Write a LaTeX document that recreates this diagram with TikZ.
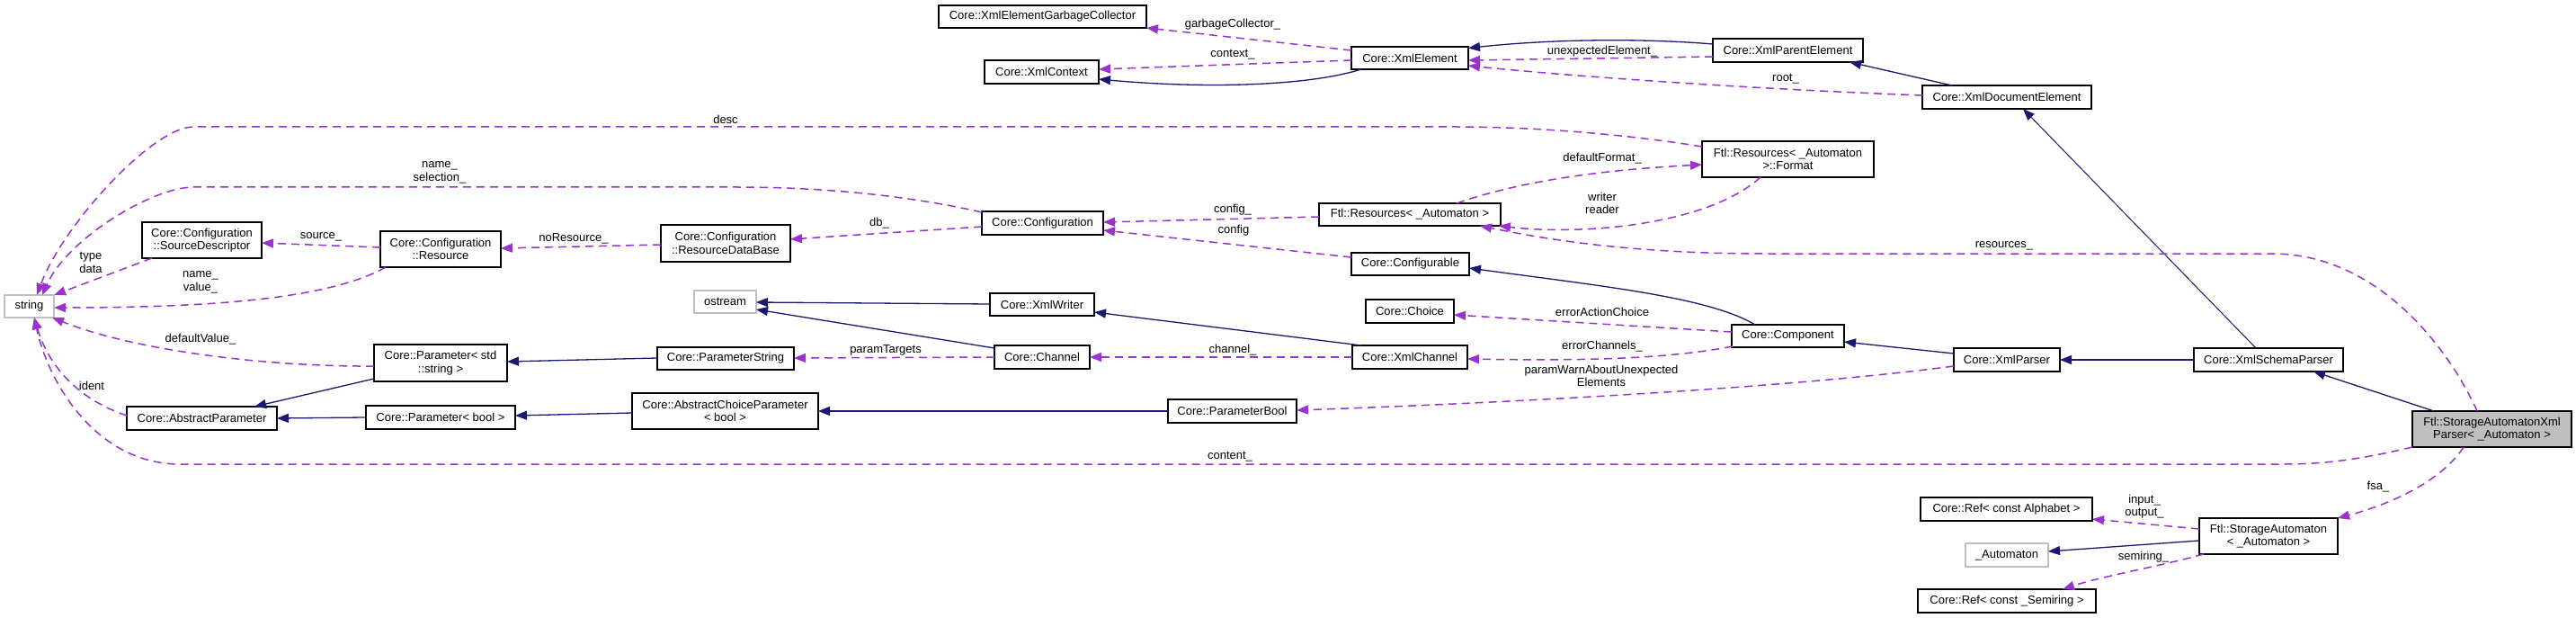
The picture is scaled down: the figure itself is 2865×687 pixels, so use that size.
\documentclass[tikz,border=0pt]{standalone}
\usepackage{fontspec}
\setmainfont{Liberation Sans}
\usetikzlibrary{arrows.meta,calc}
\definecolor{inh}{HTML}{191970}
\definecolor{usec}{HTML}{9A32CD}
\definecolor{grayb}{HTML}{BFBFBF}
\begin{document}
\begin{tikzpicture}[x=1pt,y=-1pt,
 box/.style={draw=black,line width=1.3pt,fill=white,inner sep=0pt,align=center,font=\fontsize{13}{14.5}\selectfont},
 ext/.style={box,draw=grayb},
 mainbox/.style={box,fill=grayb},
 inhe/.style={draw=inh,line width=1.3pt,-{Triangle[length=13pt,width=10pt]}},
 usee/.style={draw=usec,line width=1.5pt,dash pattern=on 9pt off 6pt,-{Triangle[length=13pt,width=10pt]}},
 lbl/.style={inner sep=0pt,align=center,font=\fontsize{13}{14.5}\selectfont}]
\useasboundingbox[fill=white] (0,0) rectangle (2865,687);

% nodes
\node[box,minimum width=231,minimum height=25] (gc) at (1159.5,18.5) {Core::XmlElementGarbageCollector};
\node[box,minimum width=127,minimum height=26] (ctx) at (1158.5,80) {Core::XmlContext};
\node[box,minimum width=130,minimum height=25] (xel) at (1568,64.5) {Core::XmlElement};
\node[box,minimum width=167,minimum height=26] (xpe) at (1988.5,56) {Core::XmlParentElement};
\node[box,minimum width=188,minimum height=26] (xde) at (2232,108) {Core::XmlDocumentElement};
\node[box,minimum width=191,minimum height=40] (fmt) at (1988.5,177) {Ftl::Resources< \_Automaton\\>::Format};
\node[box,minimum width=202,minimum height=25] (res) at (1568,238.5) {Ftl::Resources< \_Automaton >};
\node[box,minimum width=135,minimum height=26] (cfg) at (1159.5,248) {Core::Configuration};
\node[box,minimum width=144,minimum height=41] (rdb) at (807,270.5) {Core::Configuration\\::ResourceDataBase};
\node[box,minimum width=134,minimum height=40] (rsc) at (490,277) {Core::Configuration\\::Resource};
\node[box,minimum width=133,minimum height=40] (sd) at (224.5,267) {Core::Configuration\\::SourceDescriptor};
\node[ext,minimum width=55,minimum height=25] (str) at (32.5,340.5) {string};
\node[box,minimum width=131,minimum height=25] (cfb) at (1568.5,293.5) {Core::Configurable};
\node[ext,minimum width=69,minimum height=25] (ost) at (806.5,335.5) {ostream};
\node[box,minimum width=116,minimum height=25] (xw) at (1159,338.5) {Core::XmlWriter};
\node[box,minimum width=98,minimum height=26] (cho) at (1568,346) {Core::Choice};
\node[box,minimum width=125,minimum height=25] (cmp) at (1988.5,373.5) {Core::Component};
\node[box,minimum width=106,minimum height=26] (chn) at (1159,397) {Core::Channel};
\node[box,minimum width=128,minimum height=26] (xch) at (1568,397) {Core::XmlChannel};
\node[box,minimum width=148,minimum height=41] (pstr) at (490,403.5) {Core::Parameter< std\\::string >};
\node[box,minimum width=152,minimum height=25] (ps) at (807,398.5) {Core::ParameterString};
\node[box,minimum width=167,minimum height=26] (ap) at (224.5,465) {Core::AbstractParameter};
\node[box,minimum width=166,minimum height=26] (pb) at (490,464) {Core::Parameter< bool >};
\node[box,minimum width=207,minimum height=40] (acp) at (806.5,457) {Core::AbstractChoiceParameter\\< bool >};
\node[box,minimum width=143,minimum height=26] (pbool) at (1370.5,457) {Core::ParameterBool};
\node[box,minimum width=118,minimum height=26] (xp) at (2232,400) {Core::XmlParser};
\node[box,minimum width=166,minimum height=26] (xsp) at (2523,400) {Core::XmlSchemaParser};
\node[mainbox,minimum width=177,minimum height=40] (sax) at (2771.5,477) {Ftl::StorageAutomatonXml\\Parser< \_Automaton >};
\node[box,minimum width=191,minimum height=26] (rfa) at (2231.5,566) {Core::Ref< const Alphabet >};
\node[ext,minimum width=92,minimum height=26] (aut) at (2232,617) {\_Automaton};
\node[box,minimum width=154,minimum height=40] (sa) at (2523,596) {Ftl::StorageAutomaton\\< \_Automaton >};
\node[box,minimum width=198,minimum height=26] (rfs) at (2232,668) {Core::Ref< const \_Semiring >};

% inheritance
\draw[inhe] ($(xpe)+(-83.5,-7)$) .. controls (1820,42) and (1720,44) .. ($(xel)+(65,-11)$);
\draw[inhe] ($(xde)+(-61,-13)$) -- ($(xpe)+(68.5,13)$);
\draw[inhe] ($(xel)+(-54,12.5)$) .. controls (1450,97) and (1330,98) .. ($(ctx)+(63.5,8)$);
\draw[inhe,line width=1pt] ($(xsp)+(-14,-13)$) -- ($(xde)+(18,13)$);
\draw[inhe] ($(cmp)+(-36.5,-12.5)$) .. controls (1900,330) and (1780,318) .. ($(cfb)+(65.5,4.5)$);
\draw[inhe] ($(xw)+(-58,-0.5)$) -- ($(ost)+(34.5,0.5)$);
\draw[inhe] ($(chn)+(-53,-10)$) -- ($(ost)+(34.5,8.5)$);
\draw[inhe] ($(xch)+(-54,-13)$) -- ($(xw)+(58,8.5)$);
\draw[inhe] ($(xp)+(-59,-7)$) -- ($(cmp)+(62.5,6.5)$);
\draw[inhe] ($(xsp)+(-83,0)$) -- ($(xp)+(59,0)$);
\draw[inhe] ($(sax)+(-64.5,-20)$) -- ($(xsp)+(50,13)$);
\draw[inhe] ($(ps)+(-76,-0.5)$) -- ($(pstr)+(74,-1.5)$);
\draw[inhe] ($(pstr)+(-74,17.5)$) -- ($(ap)+(58.5,-13)$);
\draw[inhe] ($(pb)+(-83,0)$) -- ($(ap)+(83.5,0)$);
\draw[inhe] ($(acp)+(-103.5,2)$) -- ($(pb)+(83,-2)$);
\draw[inhe] ($(pbool)+(-71.5,0)$) -- ($(acp)+(103.5,0)$);
\draw[inhe] ($(sa)+(-77,5)$) -- ($(aut)+(46,-4)$);

% usage
\draw[usee] ($(xel)+(-65,-8.5)$) -- ($(gc)+(115.5,12.5)$);
\draw[usee] ($(xel)+(-65,2.5)$) -- ($(ctx)+(63.5,-3)$);
\draw[usee] ($(xpe)+(-83.5,7)$) -- ($(xel)+(65,2.5)$);
\draw[usee] ($(xde)+(-94,-2)$) .. controls (1950,99) and (1750,85) .. ($(xel)+(65,8.5)$);
\draw[usee] ($(fmt)+(-95.5,-14)$) .. controls (1800,148) and (1700,141) .. (1620,141) -- (215,141) .. controls (170,141) and (70,250) .. ($(str)+(8.5,-12.5)$);
\draw[usee] ($(cfg)+(-67.5,-12)$) .. controls (1000,215) and (900,208) .. (820,208) -- (215,208) .. controls (170,208) and (75,265) .. ($(str)+(14.5,-12.5)$);
\draw[usee] ($(res)+(52,-12.5)$) .. controls (1700,198) and (1800,188) .. ($(fmt)+(-95.5,6)$);
\draw[usee] ($(fmt)+(-30.5,20)$) .. controls (1900,250) and (1760,262) .. ($(res)+(99,12.5)$);
\draw[usee] ($(sax)+(-16.5,-20)$) .. controls (2720,380) and (2640,282) .. (2527,282) -- (1960,282) .. controls (1800,282) and (1700,262) .. ($(res)+(78,12.5)$);
\draw[usee] ($(res)+(-101,2.5)$) -- ($(cfg)+(67.5,-1)$);
\draw[usee] ($(cfb)+(-65.5,-7.5)$) -- ($(cfg)+(67.5,8)$);
\draw[usee] ($(cfg)+(-67.5,4)$) -- ($(rdb)+(72,-4.5)$);
\draw[usee] ($(rdb)+(-72,1.5)$) -- ($(rsc)+(67,-1)$);
\draw[usee] ($(rsc)+(-67,-2)$) -- ($(sd)+(66.5,3)$);
\draw[usee] ($(sd)+(-55.5,20)$) -- ($(str)+(27.5,-12.5)$);
\draw[usee] ($(rsc)+(-61,20)$) .. controls (370,330) and (250,342) .. ($(str)+(27.5,1.5)$);
\draw[usee] ($(pstr)+(-74,3.5)$) .. controls (300,408) and (150,390) .. ($(str)+(25.5,12.5)$);
\draw[usee] ($(ap)+(-83.5,-3)$) .. controls (90,445) and (55,410) .. ($(str)+(5.5,12.5)$);
\draw[usee] ($(sax)+(-88.5,20)$) .. controls (2620,512) and (2580,516) .. (2540,516) -- (200,516) .. controls (110,516) and (55,430) .. ($(str)+(5.5,12.5)$);
\draw[usee] ($(chn)+(-53,0)$) -- ($(ps)+(76,-0.5)$);
\draw[usee] ($(xch)+(-64,0)$) -- ($(chn)+(53,0)$);
\draw[usee] ($(cmp)+(-62.5,-4.5)$) -- ($(cho)+(49,4)$);
\draw[usee] ($(cmp)+(-61.5,11.5)$) .. controls (1850,400) and (1750,401) .. ($(xch)+(64,2)$);
\draw[usee] ($(xp)+(-59,7)$) .. controls (2000,430) and (1700,447) .. ($(pbool)+(71.5,-1)$);
\draw[usee] ($(sax)+(-31.5,20)$) .. controls (2715,535) and (2660,560) .. ($(sa)+(77,-20)$);
\draw[usee] ($(sa)+(-77,-8)$) -- ($(rfa)+(95.5,11)$);
\draw[usee] ($(sa)+(-72,20)$) .. controls (2400,630) and (2340,640) .. ($(rfs)+(62,-13)$);

% labels
\node[lbl] (l1) at (1371,27) {garbageCollector\_};
\node[lbl] (l2) at (1371,61) {context\_};
\node[lbl] (l3) at (1782,57) {unexpectedElement\_};
\node[lbl] (l4) at (1986,88) {root\_};
\node[lbl] (l5) at (807,133) {desc};
\node[lbl] (l6) at (489,192) {name\_\\selection\_};
\node[lbl] (l7) at (1782,176) {defaultFormat\_};
\node[lbl] (l8) at (1782,226) {writer\\reader};
\node[lbl] (l9) at (2229,273) {resources\_};
\node[lbl] (l10) at (1371,233) {config\_};
\node[lbl] (l11) at (1372,256) {config};
\node[lbl] (l12) at (978,248) {db\_};
\node[lbl] (l13) at (638,265) {noResource\_};
\node[lbl] (l14) at (357,263) {source\_};
\node[lbl] (l15) at (101,292) {type\\data};
\node[lbl] (l16) at (223,314) {name\_\\value\_};
\node[lbl] (l17) at (223,377) {defaultValue\_};
\node[lbl] (l18) at (102,429) {ident};
\node[lbl] (l19) at (1368,508) {content\_};
\node[lbl] (l20) at (985,389) {paramTargets};
\node[lbl] (l21) at (1371,389) {channel\_};
\node[lbl] (l22) at (1782,347) {errorActionChoice};
\node[lbl] (l23) at (1782,385) {errorChannels\_};
\node[lbl] (l24) at (1781,418) {paramWarnAboutUnexpected\\Elements};
\node[lbl] (l25) at (2645,541) {fsa\_};
\node[lbl] (l26) at (2385,563) {input\_\\output\_};
\node[lbl] (l27) at (2384,619) {semiring\_};
\end{tikzpicture}
\end{document}
